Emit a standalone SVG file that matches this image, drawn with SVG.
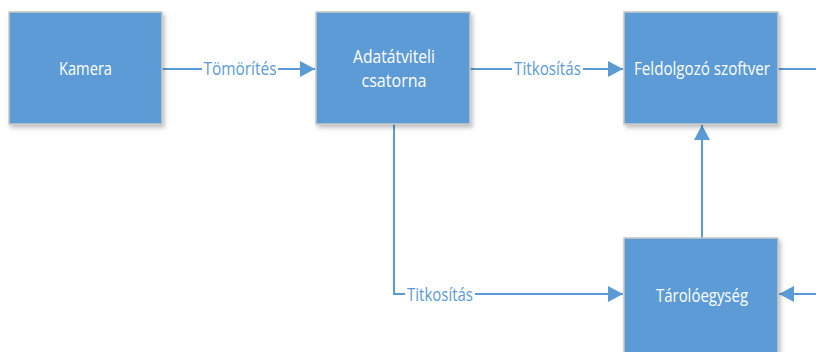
<svg xmlns="http://www.w3.org/2000/svg" width="816" height="352" viewBox="0 0 816 352">
<style>
.box{fill:#5B9BD5;stroke:#C8C8C8;stroke-width:1.5;filter:url(#sh)}
.t{fill:#FFFFFF;font-family:"Open Sans","Noto Sans",sans-serif;font-size:18px;text-anchor:middle}
.lbl{fill:#5B9BD5;font-family:"Open Sans","Noto Sans",sans-serif;font-size:18px;text-anchor:middle}
.bg{fill:#FFFFFF}
.c{stroke:#5B9BD5;stroke-width:2;fill:none}
</style>
<defs>
<filter id="sh" x="-10%" y="-10%" width="130%" height="130%">
<feDropShadow dx="2" dy="3" stdDeviation="2" flood-color="#000000" flood-opacity="0.25"/>
</filter>
<marker id="ah" markerWidth="16" markerHeight="16" refX="15" refY="8" orient="auto" markerUnits="userSpaceOnUse">
<path d="M0,0 L15,8 L0,16 Z" fill="#5B9BD5"/>
</marker>
</defs>
<g id="connectors">
<path class="c" d="M162,69 L315,69" marker-end="url(#ah)"/>
<path class="c" d="M470,69 L623,69" marker-end="url(#ah)"/>
<path class="c" d="M778,69 L816,69"/>
<path class="c" d="M394,124 L394,294 L623,294" marker-end="url(#ah)"/>
<path class="c" d="M702,238 L702,125" marker-end="url(#ah)"/>
<path class="c" d="M816,294 L779,294" marker-end="url(#ah)"/>
<rect class="bg" x="202" y="58" width="76" height="22"/>
<text class="lbl" x="240" y="75" textLength="73" lengthAdjust="spacingAndGlyphs">Tömörítés</text>
<rect class="bg" x="512" y="58" width="71" height="22"/>
<text class="lbl" x="547.5" y="75" textLength="67" lengthAdjust="spacingAndGlyphs">Titkosítás</text>
<rect class="bg" x="405" y="284" width="70" height="22"/>
<text class="lbl" x="440" y="301" textLength="66" lengthAdjust="spacingAndGlyphs">Titkosítás</text>
</g>
<g id="kamera">
<rect class="box" x="9" y="12" width="153" height="112"/>
<text class="t" x="85.5" y="75" textLength="53" lengthAdjust="spacingAndGlyphs">Kamera</text>
</g>
<g id="adatatviteli">
<rect class="box" x="316" y="12" width="154" height="112"/>
<text class="t" x="394" y="63" textLength="82" lengthAdjust="spacingAndGlyphs">Adatátviteli</text>
<text class="t" x="394" y="87" textLength="65" lengthAdjust="spacingAndGlyphs">csatorna</text>
</g>
<g id="feldolgozo">
<rect class="box" x="624" y="12" width="154" height="112"/>
<text class="t" x="702" y="75" textLength="136" lengthAdjust="spacingAndGlyphs">Feldolgozó szoftver</text>
</g>
<g id="tarolo">
<rect class="box" x="624" y="238" width="154" height="116"/>
<text class="t" x="702" y="302" textLength="92" lengthAdjust="spacingAndGlyphs">Tárolóegység</text>
</g>
</svg>
